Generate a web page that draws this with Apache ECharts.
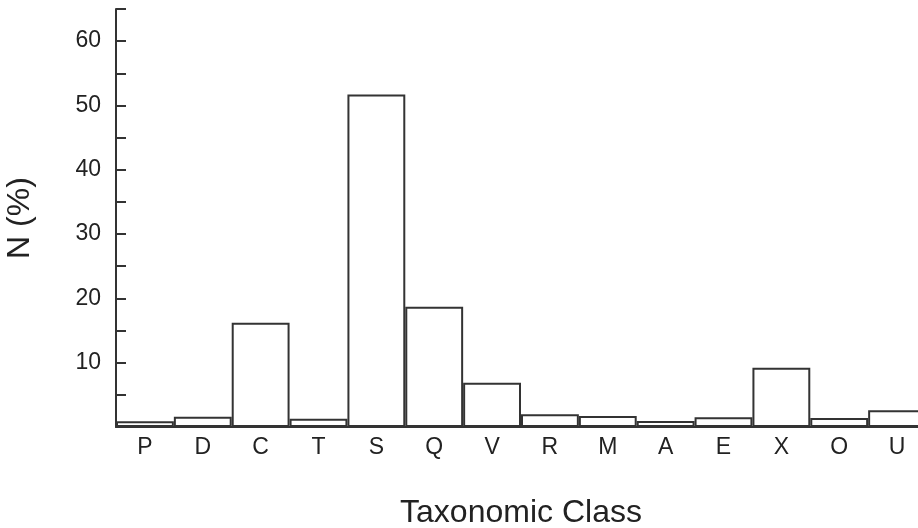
<!DOCTYPE html>
<html>
<head>
<meta charset="utf-8">
<script src="https://cdn.jsdelivr.net/npm/echarts@6/dist/echarts.min.js"></script>
<style>
  html, body { margin: 0; padding: 0; background: #fff; }
  #echart_main { width: 918px; height: 528px; }
</style>
</head>
<body>
<div id="echart_main"></div>
<script>
// taxonomic classes and their share
var classes = ['P', 'D', 'C', 'T', 'S', 'Q', 'V', 'R', 'M', 'A', 'E', 'X', 'O', 'U'];
var percent = [0.9, 1.6, 16.2, 1.3, 51.7, 18.7, 6.9, 2.0, 1.7, 0.95, 1.5, 9.2, 1.4, 2.6];

var myChart = echarts.init(document.getElementById('echart_main'));
var ink = '#333';
var font = '"Liberation Sans", Arial, sans-serif';

option = {
    animation: false,
    grid: {
        left: 116,
        right: -8,
        top: 9,
        bottom: 101,
        outerBoundsMode: 'none',
        containLabel: false
    },
    xAxis: {
        type: 'category',
        data: classes,
        name: 'Taxonomic Class',
        nameLocation: 'middle',
        nameGap: 70,
        nameTextStyle: { color: '#222', fontSize: 32, fontFamily: font },
        axisLine: { lineStyle: { color: ink, width: 2 } },
        axisTick: { show: false },
        axisLabel: { color: '#222', fontSize: 23, fontFamily: font, margin: 9 }
    },
    yAxis: {
        type: 'value',
        min: 0,
        max: 65,
        interval: 5,
        name: 'N (%)',
        nameLocation: 'middle',
        nameGap: 80,
        nameRotate: 90,
        nameTextStyle: { color: '#222', fontSize: 32, fontFamily: font },
        axisLine: { show: true, lineStyle: { color: ink, width: 2 } },
        axisTick: { show: true, inside: true, length: 10, lineStyle: { color: ink, width: 2 } },
        splitLine: { show: false },
        axisLabel: {
            color: '#222',
            fontSize: 23,
            fontFamily: font,
            margin: 15,
            //只显示10的倍数
            formatter: function (v) {
                return (v > 0 && v % 10 === 0) ? String(v) : '';
            }
        }
    },
    series: [
        {
            type: 'bar',
            data: percent,
            barCategoryGap: 0,
            itemStyle: { color: '#fff', borderColor: ink, borderWidth: 2 }
        }
    ]
};
myChart.setOption(option);
</script>
</body>
</html>
